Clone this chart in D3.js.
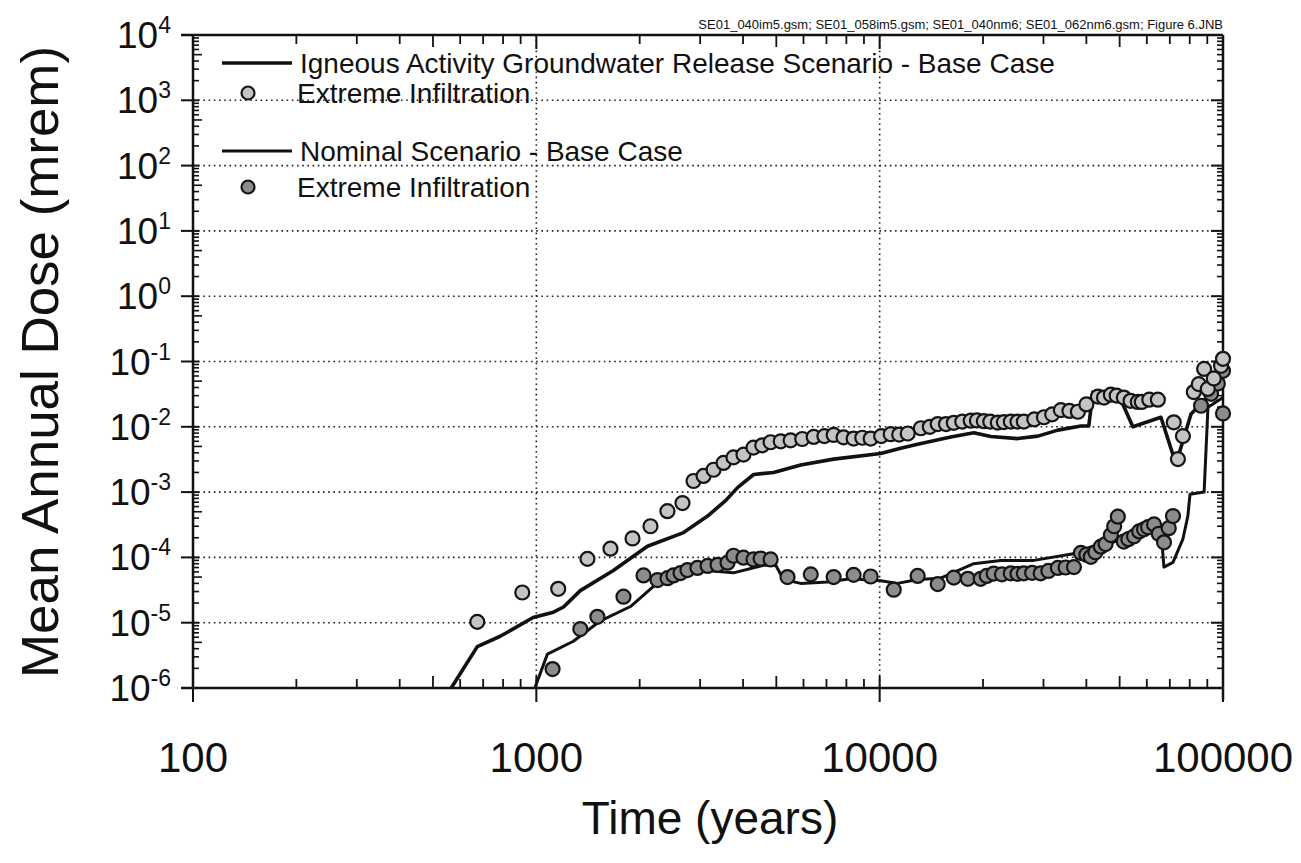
<!DOCTYPE html>
<html>
<head>
<meta charset="utf-8">
<title>Mean Annual Dose</title>
<script src="https://cdn.jsdelivr.net/npm/d3@7/dist/d3.min.js"></script>
<style>
  body { margin: 0; background: #fff; }
  text { font-family: "Liberation Sans", Arial, Helvetica, sans-serif; fill: #111; }
</style>
</head>
<body>
<svg width="1301" height="863"></svg>
<script>
// data: [time (years), dose (mrem)]
var xTicks = [100, 1000, 10000, 100000];
var yExps = [4, 3, 2, 1, 0, -1, -2, -3, -4, -5, -6];

var igneousBase = [
  [565,1e-6],[673,4.3e-6],[785,6.2e-6],[979,1.2e-5],[1121,1.45e-5],[1200,1.74e-5],
  [1343,3.1e-5],[1676,6.3e-5],[2107,1.48e-4],[2684,2.4e-4],[3154,4.3e-4],[3557,7.4e-4],
  [3855,1.17e-3],[4294,1.86e-3],[4910,2.0e-3],[5888,2.6e-3],[7345,3.2e-3],[10070,3.9e-3],
  [11510,4.7e-3],[12900,5.4e-3],[16110,7.0e-3],[18800,8.1e-3],[21080,7.1e-3],[25250,6.6e-3],
  [28890,7.2e-3],[33040,8.9e-3],[38550,1.03e-2],[40650,1.03e-2],[41770,3.4e-2],[49390,3.3e-2],
  [54640,1.0e-2],[65950,1.4e-2],[72940,2.7e-3],[80700,1.57e-2],[89200,2.7e-2],[100000,6.5e-2]
];

var igneousExtreme = [
  [673,1.03e-5],[910,2.9e-5],[1158,3.3e-5],[1409,9.5e-5],[1644,1.36e-4],[1906,1.95e-4],
  [2150,3.0e-4],[2409,5.1e-4],[2665,6.8e-4],[2870,1.48e-3],[3070,1.77e-3],[3283,2.2e-3],
  [3510,2.8e-3],[3752,3.4e-3],[4012,3.75e-3],[4290,4.8e-3],[4550,5.2e-3],[4813,5.8e-3],
  [5150,6.0e-3],[5503,6.2e-3],[5950,6.5e-3],[6424,7.0e-3],[6900,7.2e-3],[7345,7.5e-3],
  [7850,6.9e-3],[8398,6.6e-3],[8900,6.8e-3],[9415,6.6e-3],[10100,7.2e-3],[10770,7.7e-3],
  [11400,7.6e-3],[12070,7.9e-3],[13180,9.5e-3],[14000,1.0e-2],[14760,1.1e-2],[15600,1.1e-2],
  [16440,1.15e-2],[17400,1.2e-2],[18420,1.24e-2],[19200,1.25e-2],[20110,1.22e-2],[21000,1.2e-2],
  [22080,1.16e-2],[23000,1.18e-2],[24100,1.2e-2],[25200,1.2e-2],[26300,1.2e-2],[28200,1.3e-2],
  [30090,1.4e-2],[31800,1.55e-2],[33720,1.8e-2],[35700,1.75e-2],[37790,1.7e-2],[40000,2.2e-2],
  [43230,2.9e-2],[45000,2.8e-2],[47140,3.1e-2],[49000,3.0e-2],[51420,2.8e-2],[53800,2.5e-2],
  [56470,2.4e-2],[58000,2.4e-2],[61000,2.6e-2],[64610,2.6e-2],[71870,1.17e-2],[73910,3.2e-3],
  [76430,7.2e-3],[82200,3.4e-2],[85000,4.5e-2],[88100,7.7e-2],[90300,3.8e-2],[94000,5.5e-2],
  [98700,8.6e-2],[100000,1.1e-1]
];

var nominalBase = [
  [990,1e-6],[1077,3.3e-6],[1282,5.2e-6],[1538,1.07e-5],[1880,1.77e-5],[2194,3.6e-5],
  [2754,5.8e-5],[3005,6.4e-5],[3750,5.8e-5],[4590,7.6e-5],[4980,7.6e-5],[5250,4.6e-5],
  [5890,4.0e-5],[7050,4.2e-5],[8220,4.7e-5],[10070,4.4e-5],[11270,4.0e-5],[12900,4.6e-5],
  [15060,4.8e-5],[18800,8.0e-5],[22520,9.0e-5],[28120,9.0e-5],[37790,1.17e-4],[41210,1.45e-4],
  [47140,1.68e-4],[55050,2.1e-4],[65950,2.7e-4],[67290,7.1e-5],[71500,8.4e-5],[76400,1.9e-4],
  [79000,4.3e-4],[80150,9.3e-4],[88100,1.0e-3],[90400,2.0e-2],[95400,2.4e-2],[100000,2.8e-2]
];

var nominalExtreme = [
  [1115,1.95e-6],[1343,8.0e-6],[1506,1.23e-5],[1794,2.5e-5],[2052,5.3e-5],[2254,4.5e-5],
  [2411,4.8e-5],[2509,5.3e-5],[2630,5.75e-5],[2755,6.4e-5],[2946,6.9e-5],[3154,7.4e-5],
  [3372,7.7e-5],[3605,8.3e-5],[3752,1.06e-4],[4012,9.9e-5],[4290,9.3e-5],[4500,9.6e-5],
  [4813,9.3e-5],[5390,5.0e-5],[6300,5.5e-5],[7345,5.0e-5],[8398,5.4e-5],[9415,5.1e-5],
  [10990,3.2e-5],[12900,5.2e-5],[14760,3.9e-5],[16440,4.9e-5],[18060,4.7e-5],[19690,4.7e-5],
  [20500,5.2e-5],[21480,5.65e-5],[22700,5.5e-5],[24090,5.7e-5],[25200,5.6e-5],[26300,5.7e-5],
  [27800,5.8e-5],[29440,5.7e-5],[31000,6.2e-5],[33040,6.9e-5],[34800,7.0e-5],[36800,7.1e-5],
  [38550,1.17e-4],[40000,1.1e-4],[41210,1.02e-4],[42500,1.2e-4],[44080,1.46e-4],[45500,1.6e-4],
  [47140,2.2e-4],[48200,3.0e-4],[49390,4.2e-4],[51420,1.75e-4],[53000,1.9e-4],[55050,2.1e-4],
  [57000,2.5e-4],[58880,2.7e-4],[60500,2.9e-4],[62970,3.2e-4],[65000,2.3e-4],[67330,1.7e-4],
  [69500,2.8e-4],[71500,4.3e-4],[86300,2.1e-2],[92300,3.2e-2],[96600,4.6e-2],[100000,7.2e-2],
  [100000,1.6e-2]
];

var legendItems = [
  {label: "Igneous Activity Groundwater Release Scenario - Base Case", kind: "line", w: 3.5},
  {label: "Extreme Infiltration", kind: "igneous"},
  {label: "Nominal Scenario - Base Case", kind: "line", w: 3},
  {label: "Extreme Infiltration", kind: "nominal"}
];
var fileNote = "SE01_040im5.gsm; SE01_058im5.gsm; SE01_040nm6; SE01_062nm6.gsm; Figure 6.JNB";

var svg = d3.select("svg");
var pLeft = 193, pRight = 1223, pTop = 35, pBottom = 688;

var x = d3.scaleLog().domain([100, 100000]).range([pLeft, pRight]);
var y = d3.scaleLog().domain([1e-6, 1e4]).range([pBottom, pTop]);

// grid (dotted)
var grid = svg.append("g").attr("stroke", "#222").attr("stroke-width", 1.6)
  .attr("stroke-dasharray", "1.6,3.6");
grid.selectAll(".gy").data(yExps.filter(function(e){ return e < 4 && e > -6; }))
  .enter().append("line")
  .attr("x1", pLeft).attr("x2", pRight)
  .attr("y1", function(e){ return y(Math.pow(10, e)); })
  .attr("y2", function(e){ return y(Math.pow(10, e)); });
grid.selectAll(".gx").data([1000, 10000])
  .enter().append("line")
  .attr("y1", pTop).attr("y2", pBottom)
  .attr("x1", function(d){ return x(d); }).attr("x2", function(d){ return x(d); });

// minor tick values
var yMinor = [], xMinor = [];
for (var e = -6; e < 4; e++) for (var m = 2; m < 10; m++) yMinor.push(m * Math.pow(10, e));
for (var e2 = 2; e2 < 5; e2++) for (var m2 = 2; m2 < 10; m2++) xMinor.push(m2 * Math.pow(10, e2));

var ax = svg.append("g").attr("stroke", "#111").attr("fill", "none");
// frame
ax.append("line").attr("x1", pLeft).attr("x2", pLeft).attr("y1", pTop).attr("y2", pBottom).attr("stroke-width", 2.5);
ax.append("line").attr("x1", pRight).attr("x2", pRight).attr("y1", pTop).attr("y2", pBottom + 12).attr("stroke-width", 2.5);
ax.append("line").attr("x1", pLeft - 12).attr("x2", pRight).attr("y1", pTop).attr("y2", pTop).attr("stroke-width", 2.5);
ax.append("line").attr("x1", pLeft - 12).attr("x2", pRight).attr("y1", pBottom).attr("y2", pBottom).attr("stroke-width", 2.5);

// y major ticks (outward) and minor (inward), both sides
ax.selectAll(".ym").data(yExps).enter().append("line")
  .attr("x1", pLeft - 12).attr("x2", pLeft + 6)
  .attr("y1", function(e){ return y(Math.pow(10, e)); })
  .attr("y2", function(e){ return y(Math.pow(10, e)); })
  .attr("stroke-width", 2);
ax.selectAll(".yn").data(yMinor).enter().append("line")
  .attr("x1", pLeft).attr("x2", function(d, i){ return pLeft + (i % 8 === 3 ? 9 : 6); })
  .attr("y1", function(d){ return y(d); }).attr("y2", function(d){ return y(d); })
  .attr("stroke-width", 1.6);
ax.selectAll(".ymr").data(yExps).enter().append("line")
  .attr("x1", pRight - 12).attr("x2", pRight)
  .attr("y1", function(e){ return y(Math.pow(10, e)); })
  .attr("y2", function(e){ return y(Math.pow(10, e)); })
  .attr("stroke-width", 2);
ax.selectAll(".ynr").data(yMinor).enter().append("line")
  .attr("x1", pRight - 6).attr("x2", pRight)
  .attr("y1", function(d){ return y(d); }).attr("y2", function(d){ return y(d); })
  .attr("stroke-width", 1.6);

// x major ticks and minor ticks, bottom and top
ax.selectAll(".xm").data(xTicks).enter().append("line")
  .attr("x1", function(d){ return x(d); }).attr("x2", function(d){ return x(d); })
  .attr("y1", pBottom - 12).attr("y2", pBottom + 14).attr("stroke-width", 2);
ax.selectAll(".xn").data(xMinor).enter().append("line")
  .attr("x1", function(d){ return x(d); }).attr("x2", function(d){ return x(d); })
  .attr("y1", function(d, i){ return pBottom - (i % 8 === 3 ? 12 : 9); }).attr("y2", pBottom)
  .attr("stroke-width", 1.8);
ax.selectAll(".xmt").data(xTicks).enter().append("line")
  .attr("x1", function(d){ return x(d); }).attr("x2", function(d){ return x(d); })
  .attr("y1", pTop).attr("y2", pTop + 14).attr("stroke-width", 2);
ax.selectAll(".xnt").data(xMinor).enter().append("line")
  .attr("x1", function(d){ return x(d); }).attr("x2", function(d){ return x(d); })
  .attr("y1", pTop).attr("y2", function(d, i){ return pTop + (i % 8 === 3 ? 12 : 9); })
  .attr("stroke-width", 1.8);

// tick labels
svg.selectAll(".xl").data(xTicks).enter().append("text")
  .attr("x", function(d){ return x(d); }).attr("y", 772)
  .attr("text-anchor", "middle").attr("font-size", 42)
  .text(function(d){ return d; });

var yl = svg.selectAll(".yl").data(yExps).enter().append("text")
  .attr("x", 171).attr("y", function(e){ return y(Math.pow(10, e)) + 13; })
  .attr("text-anchor", "end").attr("font-size", 37);
yl.append("tspan").text("10");
yl.append("tspan").attr("font-size", 23).attr("dy", -15).text(function(e){ return e; });

// axis titles
svg.append("text").attr("x", 710).attr("y", 834).attr("text-anchor", "middle")
  .attr("font-size", 46).text("Time (years)");
svg.append("text").attr("transform", "translate(58,362) rotate(-90)")
  .attr("text-anchor", "middle").attr("font-size", 52)
  .attr("textLength", 632).attr("lengthAdjust", "spacingAndGlyphs")
  .text("Mean Annual Dose (mrem)");

svg.append("text").attr("x", pRight).attr("y", 29).attr("text-anchor", "end")
  .attr("font-size", 13).text(fileNote);

// curves
var line = d3.line().x(function(d){ return x(d[0]); }).y(function(d){ return y(d[1]); });
var plot = svg.append("g");
plot.append("path").datum(nominalBase).attr("d", line)
  .attr("fill", "none").attr("stroke", "#111").attr("stroke-width", 3).attr("stroke-linejoin", "round");
plot.append("path").datum(igneousBase).attr("d", line)
  .attr("fill", "none").attr("stroke", "#111").attr("stroke-width", 3.6).attr("stroke-linejoin", "round");

function dots(data, fill) {
  plot.append("g").selectAll("circle").data(data).enter().append("circle")
    .attr("cx", function(d){ return x(d[0]); }).attr("cy", function(d){ return y(d[1]); })
    .attr("r", 7).attr("fill", fill).attr("stroke", "#151515").attr("stroke-width", 2.2);
}
dots(nominalExtreme, "#8c8c8c");
dots(igneousExtreme, "#c4c4c4");

// legend
var rows = [63, 93, 151, 187];
var lg = svg.append("g");
legendItems.forEach(function(it, i){
  var yy = rows[i];
  if (it.kind === "line") {
    lg.append("line").attr("x1", 222).attr("x2", 292).attr("y1", yy).attr("y2", yy)
      .attr("stroke", "#111").attr("stroke-width", it.w);
    lg.append("text").attr("x", 300).attr("y", yy + 10).attr("font-size", 28).text(it.label);
  } else {
    lg.append("circle").attr("cx", 248).attr("cy", yy).attr("r", 6.5)
      .attr("fill", it.kind === "igneous" ? "#c4c4c4" : "#8c8c8c")
      .attr("stroke", "#151515").attr("stroke-width", 2.2);
    lg.append("text").attr("x", 297).attr("y", yy + 10).attr("font-size", 28).text(it.label);
  }
});
</script>
</body>
</html>
